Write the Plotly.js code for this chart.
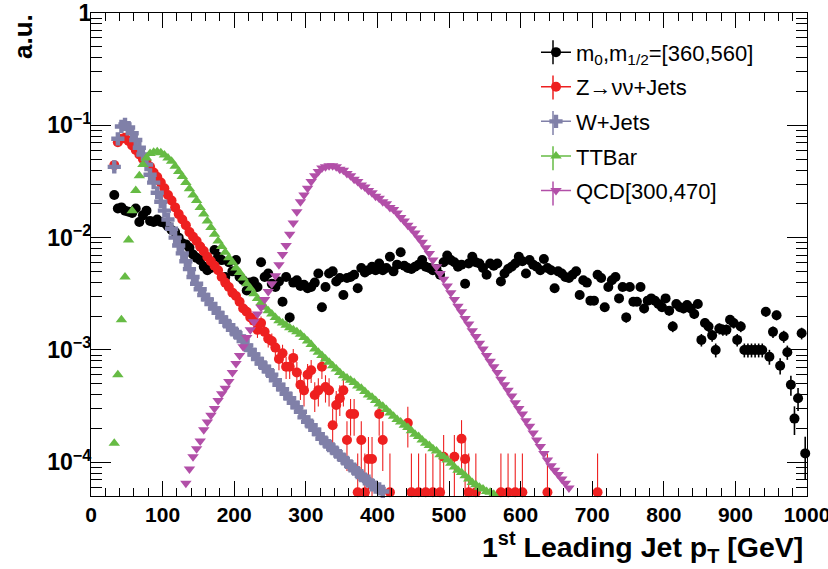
<!DOCTYPE html>
<html>
<head>
<meta charset="utf-8">
<script src="https://cdn.plot.ly/plotly-3.0.1.min.js"></script>
<style>html,body{margin:0;padding:0;background:#fff;}</style>
</head>
<body>
<div id="chart" style="width:828px;height:569px;"></div>
<script>
// ---------------- data (5 GeV bins) ----------------
const binWidth = 5;
const seriesNames = ["m<sub>0</sub>,m<sub>1/2</sub>=[360,560]", "Z\u2192\u03bd\u03bd+Jets", "W+Jets", "TTBar", "QCD[300,470]"];

const signalStart = 32.5;
const signalVals = [
 2.40e-2,1.82e-2,1.86e-2,1.74e-2,1.70e-2,1.66e-2,1.82e-2,1.38e-2,1.58e-2,1.74e-2,
 1.41e-2,1.38e-2,1.45e-2,1.38e-2,1.35e-2,1.26e-2,1.17e-2,1.12e-2,1.00e-2,8.91e-3,
 8.71e-3,8.13e-3,7.08e-3,6.61e-3,6.31e-3,5.50e-3,5.13e-3,5.37e-3,7.76e-3,6.76e-3,
 6.31e-3,4.47e-3,6.03e-3,5.01e-3,6.31e-3,4.47e-3,4.17e-3,3.39e-3,3.98e-3,4.07e-3,
 3.63e-3,6.03e-3,4.47e-3,4.79e-3,3.89e-3,3.63e-3,4.07e-3,2.69e-3,4.47e-3,1.95e-3,
 3.98e-3,4.17e-3,3.72e-3,3.80e-3,3.55e-3,3.63e-3,3.98e-3,4.79e-3,2.40e-3,3.63e-3,
 4.79e-3,5.01e-3,4.07e-3,4.37e-3,3.09e-3,4.37e-3,4.47e-3,4.68e-3,3.55e-3,5.37e-3,
 4.90e-3,5.13e-3,5.50e-3,5.13e-3,5.89e-3,5.13e-3,5.37e-3,6.76e-3,5.01e-3,5.75e-3,
 7.41e-3,5.62e-3,5.37e-3,5.25e-3,5.50e-3,5.75e-3,6.31e-3,5.50e-3,5.37e-3,5.13e-3,
 5.25e-3,4.68e-3,6.03e-3,6.92e-3,6.31e-3,6.03e-3,5.50e-3,5.75e-3,3.89e-3,5.89e-3,
 6.76e-3,6.03e-3,5.89e-3,5.37e-3,4.68e-3,5.89e-3,5.62e-3,5.89e-3,4.07e-3,4.79e-3,
 5.25e-3,5.50e-3,5.89e-3,6.76e-3,6.17e-3,4.79e-3,6.31e-3,5.75e-3,5.50e-3,5.13e-3,
 6.46e-3,5.37e-3,5.13e-3,3.55e-3,5.01e-3,4.79e-3,4.47e-3,4.37e-3,4.68e-3,5.01e-3,
 3.09e-3,4.17e-3,3.98e-3,2.75e-3,2.75e-3,4.68e-3,4.37e-3,2.40e-3,3.63e-3,4.17e-3,
 4.47e-3,2.88e-3,3.63e-3,1.95e-3,3.63e-3,2.69e-3,2.69e-3,3.63e-3,2.34e-3,2.75e-3,
 2.88e-3,2.75e-3,2.57e-3,2.40e-3,2.88e-3,2.24e-3,1.62e-3,2.57e-3,2.40e-3,2.34e-3,
 2.51e-3,2.34e-3,2.09e-3,2.57e-3,1.23e-3,1.74e-3,1.62e-3,1.35e-3,1.00e-3,1.55e-3,
 1.51e-3,1.51e-3,1.86e-3,1.74e-3,1.23e-3,1.62e-3,1.00e-3,1.00e-3,1.00e-3,1.00e-3,
 1.00e-3,1.00e-3,2.19e-3,8.71e-4,1.45e-3,2.04e-3,7.24e-4,1.32e-3,9.55e-4,4.90e-4,
 2.45e-4,3.72e-4,1.41e-3,1.20e-4
];

// 0 = bin filled below the axis floor (drawn on the floor), null = no point drawn
const zjetsStart = 32.5;
const zjetsVals = [
 4.42e-2,7.08e-2,7.59e-2,7.76e-2,7.24e-2,6.61e-2,6.03e-2,5.50e-2,5.01e-2,4.68e-2,
 4.27e-2,3.80e-2,3.47e-2,3.09e-2,2.75e-2,2.40e-2,2.14e-2,1.86e-2,1.62e-2,1.45e-2,
 1.29e-2,1.12e-2,1.02e-2,9.33e-3,8.32e-3,7.59e-3,6.76e-3,6.17e-3,5.62e-3,5.13e-3,
 4.47e-3,3.98e-3,3.63e-3,3.24e-3,3.02e-3,2.69e-3,2.34e-3,2.19e-3,1.95e-3,1.82e-3,
 1.51e-3,1.74e-3,1.45e-3,1.26e-3,1.20e-3,1.05e-3,8.32e-4,9.33e-4,7.08e-4,7.08e-4,
 8.50e-4,6.31e-4,4.90e-4,4.37e-4,6.03e-4,6.61e-4,3.98e-4,4.37e-4,7.08e-4,4.68e-4,
 4.37e-4,2.14e-4,3.24e-4,3.72e-4,4.37e-4,1.58e-4,2.69e-4,2.69e-4,0,1.58e-4,
 0,1.07e-4,1.07e-4,null,2.69e-4,1.58e-4,null,0,null,null,
 null,null,2.24e-4,0,null,0,null,0,null,0,
 null,0,1.12e-4,null,null,1.12e-4,null,1.62e-4,1.07e-4,0,
 null,0,null,null,null,null,null,null,0,null,
 0,null,0,null,0,null,null,null,null,null,
 null,0,null,null,null,null,null,null,null,null,
 null,null,null,null,null,0
];

const wjetsStart = 32.5;
const wjetsVals = [
 4.27e-2,7.59e-2,9.77e-2,1.02e-1,9.55e-2,8.51e-2,7.41e-2,6.31e-2,5.50e-2,4.47e-2,
 3.63e-2,3.09e-2,2.51e-2,2.09e-2,1.74e-2,1.45e-2,1.20e-2,1.00e-2,8.51e-3,7.24e-3,
 6.17e-3,5.25e-3,4.47e-3,3.89e-3,3.47e-3,3.09e-3,2.82e-3,2.57e-3,2.34e-3,2.14e-3,
 1.95e-3,1.78e-3,1.66e-3,1.51e-3,1.41e-3,1.32e-3,1.20e-3,1.10e-3,1.00e-3,9.12e-4,
 8.32e-4,7.59e-4,7.08e-4,6.46e-4,6.03e-4,5.37e-4,4.90e-4,4.47e-4,4.07e-4,3.72e-4,
 3.39e-4,3.09e-4,2.82e-4,2.51e-4,2.29e-4,2.14e-4,1.95e-4,1.78e-4,1.62e-4,1.51e-4,
 1.41e-4,1.32e-4,1.23e-4,1.15e-4,1.07e-4,1.00e-4,9.3e-5,8.7e-5,8.1e-5,7.6e-5,
 7.1e-5,6.8e-5,6.3e-5,6.0e-5,5.8e-5,5.5e-5
];

const ttbarStart = 32.5;
const ttbarVals = [
 1.48e-4,6.03e-4,1.86e-3,4.47e-3,9.55e-3,1.74e-2,2.63e-2,3.55e-2,4.47e-2,5.13e-2,
 5.62e-2,5.75e-2,5.82e-2,5.69e-2,5.43e-2,5.13e-2,4.79e-2,4.32e-2,3.89e-2,3.51e-2,
 3.09e-2,2.72e-2,2.40e-2,2.14e-2,1.86e-2,1.62e-2,1.41e-2,1.23e-2,1.07e-2,9.33e-3,
 8.32e-3,7.41e-3,6.61e-3,6.03e-3,5.37e-3,4.90e-3,4.37e-3,3.89e-3,3.55e-3,3.16e-3,
 2.88e-3,2.63e-3,2.40e-3,2.24e-3,2.09e-3,1.95e-3,1.82e-3,1.74e-3,1.66e-3,1.58e-3,
 1.51e-3,1.45e-3,1.38e-3,1.29e-3,1.20e-3,1.12e-3,1.02e-3,9.55e-4,8.91e-4,8.32e-4,
 7.76e-4,7.24e-4,6.76e-4,6.31e-4,5.89e-4,5.62e-4,5.37e-4,5.13e-4,4.79e-4,4.57e-4,
 4.27e-4,3.98e-4,3.80e-4,3.55e-4,3.31e-4,3.16e-4,2.95e-4,2.75e-4,2.57e-4,2.40e-4,
 2.29e-4,2.14e-4,2.04e-4,1.91e-4,1.78e-4,1.70e-4,1.58e-4,1.48e-4,1.41e-4,1.32e-4,
 1.26e-4,1.17e-4,1.12e-4,1.05e-4,9.8e-5,9.1e-5,8.5e-5,8.1e-5,7.6e-5,7.1e-5,
 6.6e-5,6.3e-5,6.0e-5,5.8e-5,5.5e-5,5.4e-5,5.2e-5
];

const qcdStart = 132.5;
const qcdVals = [
 6.5e-5,8.7e-5,1.12e-4,1.32e-4,1.55e-4,1.95e-4,2.29e-4,2.63e-4,3.02e-4,3.55e-4,
 4.07e-4,4.57e-4,5.25e-4,6.31e-4,7.59e-4,8.91e-4,1.07e-3,1.29e-3,1.51e-3,1.78e-3,
 2.09e-3,2.40e-3,2.82e-3,3.31e-3,3.89e-3,4.57e-3,5.75e-3,7.08e-3,8.51e-3,1.07e-2,
 1.35e-2,1.70e-2,2.09e-2,2.40e-2,2.75e-2,3.16e-2,3.55e-2,3.89e-2,4.17e-2,4.27e-2,
 4.37e-2,4.37e-2,4.27e-2,4.07e-2,3.98e-2,3.72e-2,3.55e-2,3.31e-2,3.16e-2,2.95e-2,
 2.82e-2,2.63e-2,2.51e-2,2.34e-2,2.24e-2,2.09e-2,2.00e-2,1.86e-2,1.78e-2,1.66e-2,
 1.51e-2,1.41e-2,1.29e-2,1.20e-2,1.10e-2,1.00e-2,9.12e-3,8.13e-3,7.24e-3,6.31e-3,
 5.50e-3,4.79e-3,4.27e-3,3.72e-3,3.24e-3,2.82e-3,2.45e-3,2.19e-3,1.91e-3,1.70e-3,
 1.48e-3,1.32e-3,1.15e-3,1.02e-3,8.91e-4,7.94e-4,7.08e-4,6.31e-4,5.50e-4,4.90e-4,
 4.37e-4,3.89e-4,3.39e-4,3.02e-4,2.69e-4,2.34e-4,2.09e-4,1.82e-4,1.58e-4,1.38e-4,
 1.20e-4,1.05e-4,9.3e-5,8.5e-5,7.8e-5,7.1e-5,6.5e-5,5.9e-5
];

// statistical weight per event (sets the size of the Poisson error bars)
const signalEventWeight = 2.0e-5;
const zjetsEventWeight = 3.5e-5;
const zeroBinErrorTop = 1.2e-4;

// ---------------- styling ----------------
const FONT = "'Liberation Sans', Arial, Helvetica, sans-serif";
const colors = ["#000000", "#ee2020", "#8080a8", "#66bb44", "#b24fa8"];
const symbols = ["circle", "circle", "cross", "triangle-up", "triangle-down"];
const sizes = [10, 10, 11, 10, 10];
const yLogRange = [-4.30, 0];
const floorLevel = Math.pow(10, yLogRange[0] + 0.033);

function buildPoints(vals, start, weight) {
  const x = [], y = [], up = [], dn = [];
  vals.forEach((v, i) => {
    if (v === null) return;
    const xc = start + i * binWidth;
    if (v === 0) {
      x.push(xc); y.push(floorLevel); up.push(zeroBinErrorTop - floorLevel); dn.push(0);
    } else {
      const e = weight ? Math.sqrt(v * weight) : 0;
      x.push(xc); y.push(v); up.push(e); dn.push(e);
    }
  });
  return {x, y, up, dn};
}

const sets = [
  buildPoints(signalVals, signalStart, signalEventWeight),
  buildPoints(zjetsVals, zjetsStart, zjetsEventWeight),
  buildPoints(wjetsVals, wjetsStart, 0),
  buildPoints(ttbarVals, ttbarStart, 0),
  buildPoints(qcdVals, qcdStart, 0)
];

const traces = [];
// legend entries (line + marker, like the ROOT legend)
seriesNames.forEach((name, k) => {
  traces.push({
    type: 'scatter', x: [null], y: [null], mode: 'lines+markers', name: name,
    legendgroup: 'g' + k, showlegend: true, hoverinfo: 'skip',
    line: {color: colors[k], width: 1.5},
    marker: {color: colors[k], symbol: symbols[k], size: sizes[k]}
  });
});
// data
sets.forEach((s, k) => {
  const t = {
    type: 'scatter', x: s.x, y: s.y, mode: 'markers', name: seriesNames[k],
    legendgroup: 'g' + k, showlegend: false, cliponaxis: false,
    marker: {color: colors[k], symbol: symbols[k], size: sizes[k], line: {width: 0}}
  };
  if (k < 2) {
    t.error_y = {type: 'data', symmetric: false, array: s.up, arrayminus: s.dn,
                 color: colors[k], thickness: k === 0 ? 1.6 : 1.1, width: 0};
  }
  traces.push(t);
});

// vertical error-bar strokes of the legend symbols (ROOT "lpe" legend style)
const legendRowsPx = [52.3, 87.6, 122.9, 158.2, 193.5];
const legendMarkerXPx = 553;
const plotLeft = 91, plotRight = 807, plotTop = 13, plotBottom = 496;
const shapes = legendRowsPx.map((py, k) => ({
  type: 'line', xref: 'paper', yref: 'paper', layer: 'above',
  x0: (legendMarkerXPx - plotLeft) / (plotRight - plotLeft),
  x1: (legendMarkerXPx - plotLeft) / (plotRight - plotLeft),
  y0: (plotBottom - (py - 12)) / (plotBottom - plotTop),
  y1: (plotBottom - (py + 12)) / (plotBottom - plotTop),
  line: {color: colors[k], width: 1.5}
}));

const axisCommon = {
  showline: true, linecolor: '#000', linewidth: 1, mirror: 'allticks',
  showgrid: false, zeroline: false, ticks: 'inside', tickcolor: '#000', tickwidth: 1
};

const layout = {
  width: 828, height: 569,
  margin: {l: plotLeft, r: 828 - plotRight, t: plotTop, b: 569 - plotBottom, pad: 0},
  paper_bgcolor: '#ffffff', plot_bgcolor: '#ffffff',
  font: {family: FONT, color: '#000'},
  showlegend: true,
  legend: {
    x: 0.6215, y: 0.962, xanchor: 'left', yanchor: 'top',
    bgcolor: 'rgba(0,0,0,0)', borderwidth: 0, tracegroupgap: 3,
    font: {family: FONT, size: 22, color: '#000'}, itemclick: false, itemdoubleclick: false
  },
  xaxis: Object.assign({}, axisCommon, {
    range: [0, 1000], dtick: 100, tick0: 0, ticklen: 15, ticklabeloverflow: 'allow',
    minor: {dtick: 20, ticklen: 8, ticks: 'inside', tickcolor: '#000', tickwidth: 1},
    tickfont: {family: FONT, size: 21, weight: 'bold', color: '#000'}
  }),
  yaxis: Object.assign({}, axisCommon, {
    type: 'log', range: yLogRange, dtick: 1, exponentformat: 'power', ticklen: 20,
    ticklabelstandoff: -5,
    minor: {dtick: 'D1', ticklen: 11, ticks: 'inside', tickcolor: '#000', tickwidth: 1},
    tickfont: {family: FONT, size: 18.5, weight: 'bold', color: '#000'}
  }),
  shapes: shapes,
  annotations: [
    {text: '1<sup>st</sup> Leading Jet p<sub>T</sub> [GeV]', xref: 'paper', yref: 'paper',
     x: 0.9972, y: -0.061, xanchor: 'right', yanchor: 'top', showarrow: false,
     font: {family: FONT, size: 28.5, weight: 'bold', color: '#000'}},
    {text: 'a.u.', xref: 'paper', yref: 'paper', x: -0.095, y: 1.003, xanchor: 'center', yanchor: 'top',
     textangle: -90, showarrow: false, font: {family: FONT, size: 26, weight: 'bold', color: '#000'}}
  ]
};

Plotly.newPlot('chart', traces, layout, {displayModeBar: false, staticPlot: true});
</script>
</body>
</html>
